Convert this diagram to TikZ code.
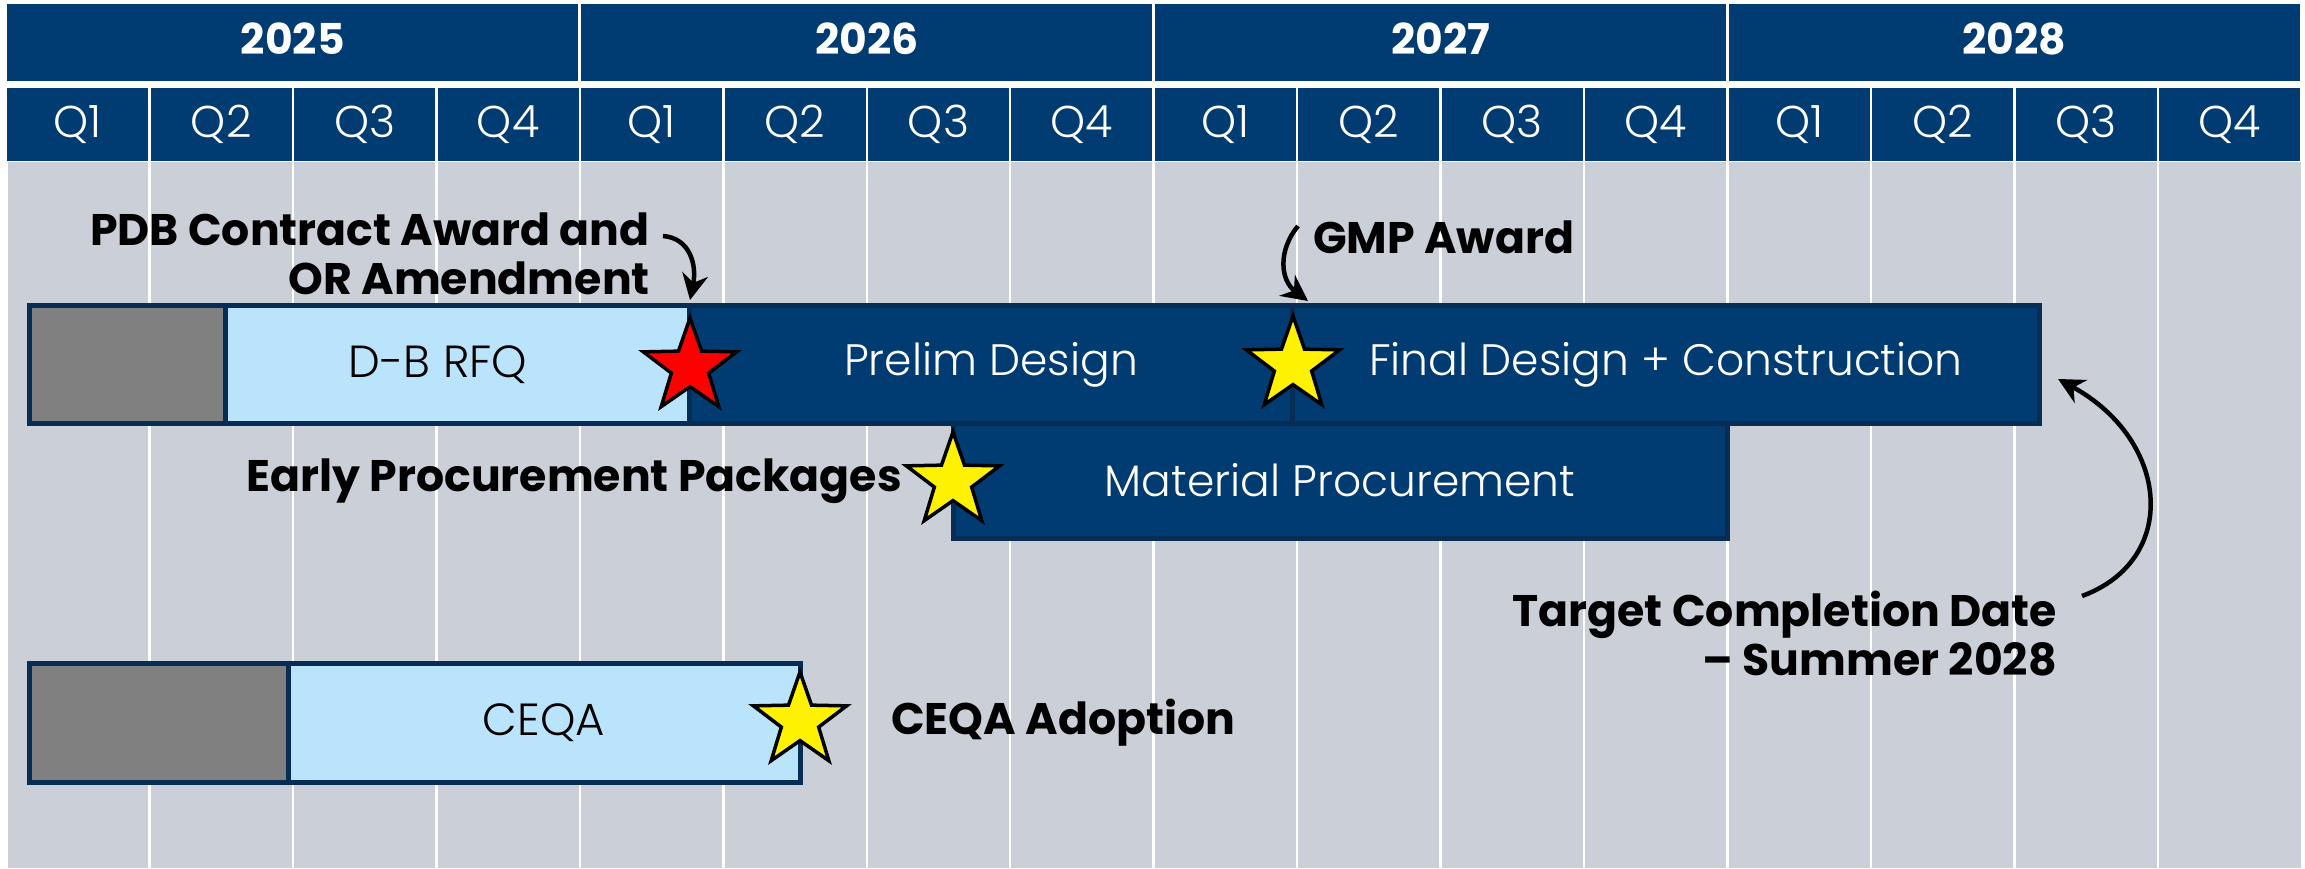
\documentclass[tikz,border=0pt]{standalone}
\usepackage{fontspec}
\setmainfont{Poppins}
\newfontfamily\lightfont{Poppins Light}
\usetikzlibrary{shapes.geometric,arrows.meta}
\definecolor{navy}{HTML}{003B71}
\definecolor{navyedge}{HTML}{072D55}
\definecolor{lightblue}{HTML}{BAE4FB}
\definecolor{gridgray}{HTML}{CBCFD7}
\definecolor{boxgray}{HTML}{808080}
\tikzset{
  yearcell/.style={fill=navy, minimum width=571, minimum height=77, inner sep=0},
  yeartext/.style={inner sep=0, text=white, font=\bfseries\fontsize{42.5}{46}\selectfont, anchor=base},
  qcell/.style={fill=navy, minimum width=141, minimum height=73, inner sep=0, text=white, font=\lightfont\fontsize{44.5}{48}\selectfont},
  bar/.style={draw=navyedge, line width=5, inner sep=0, font=\lightfont\fontsize{44}{48}\selectfont},
  darkbar/.style={bar, fill=navy, text=white},
  lightbar/.style={bar, fill=lightblue, text=black},
  graybar/.style={bar, fill=boxgray},
  bartext/.style={inner sep=0, font=\lightfont\fontsize{45}{48}\selectfont},
  milestone/.style={star, star points=5, star point ratio=2.5, minimum size=98, inner sep=0, draw=black, line width=3.5},
  lbl/.style={inner sep=0, text=black, font=\bfseries\fontsize{44.2}{49}\selectfont},
  callout/.style={draw=black, line width=4.5, -{Stealth[length=26, width=26]}}
}
\begin{document}
\begin{tikzpicture}[x=1pt,y=-1pt]
\useasboundingbox (0,0) rectangle (2305,868);
\fill[white] (0,0) rectangle (2305,868);
\fill[gridgray] (8,162) rectangle (2301,868);
\foreach \i in {1,...,15} \draw[white, line width=2.5] ({6+\i*143.46},162) -- ({6+\i*143.46},868);
% header
\foreach \yr [count=\k from 0] in {2025,2026,2027,2028}{
  \node[yearcell] (y\yr) at ({6+\k*573.84+286.92},42) {};
  \node[yeartext] (yt\yr) at ([yshift=-12]y\yr.center) {\yr};
}
\foreach \k in {0,...,15}{
  \pgfmathtruncatemacro{\q}{mod(\k,4)+1}
  \node[qcell] (q\k) at ({6+\k*143.46+71.73},124.5) {Q\q};
}
% bars
\node[darkbar, minimum width=774, minimum height=115] (matproc) at (1340,480.5) {Material Procurement};
\node[graybar, minimum width=196, minimum height=118] (pre1) at (127,364.5) {};
\node[lightbar, minimum width=464, minimum height=118] (dbrfq) at (457,364.5) {};
\node[bartext, text=black] (dbrfqtxt) at ([xshift=-19]dbrfq.center) {D-B RFQ};
\node[darkbar, minimum width=603, minimum height=118] (prelim) at (991,364.5) {Prelim Design};
\node[darkbar, minimum width=747, minimum height=118] (final) at (1666,364.5) {Final Design + Construction};
\node[graybar, minimum width=259, minimum height=119] (pre2) at (158.5,722.5) {};
\node[lightbar, minimum width=512, minimum height=119] (ceqa) at (544,722.5) {};
\node[bartext, text=black] (ceqatxt) at (ceqa.center) {CEQA};
% stars
\node[milestone, fill=red] (s1) at (690,367) {};
\node[milestone, fill=yellow] (s2) at (1293,365) {};
\node[milestone, fill=yellow] (s3) at (953,481) {};
\node[milestone, fill=yellow] (s4) at (800,721) {};
% labels
\node[lbl, anchor=east, align=right] (pdb) at (650,254) {PDB Contract Award and\\OR Amendment};
\node[lbl, anchor=west] (gmp) at (1313,237) {GMP Award};
\node[lbl, anchor=east] (epp) at (902,481) {Early Procurement Packages};
\node[lbl, anchor=west] (ceqaad) at (891,723) {CEQA Adoption};
\node[lbl, anchor=east, align=right] (target) at (2057,634) {Target Completion Date\\– Summer 2028};
% callouts
\coordinate (pdbtail) at (663,236);
\coordinate (pdbtip) at (690,300);
\draw[callout] (pdbtail) .. controls (690,238) and (697,265) .. (pdbtip);
\coordinate (gmptail) at (1298,226);
\coordinate (gmptip) at (1308,301);
\draw[callout] (gmptail) .. controls (1278,250) and (1280,280) .. (gmptip);
\coordinate (tgttail) at (2082,596);
\coordinate (tgttip) at (2058,379);
\draw[callout] (tgttail) .. controls (2180,560) and (2170,440) .. (tgttip);
\end{tikzpicture}
\end{document}
